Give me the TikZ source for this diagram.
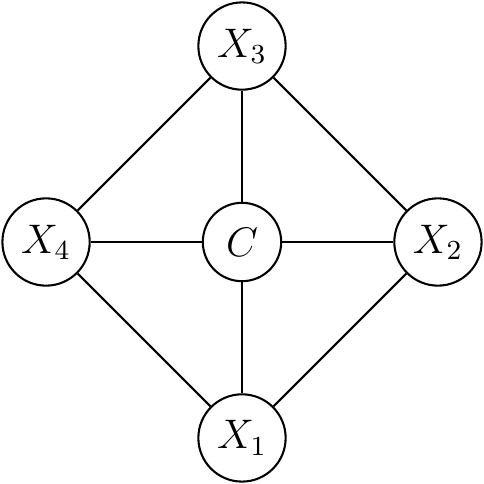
\documentclass[tikz,border=0pt]{standalone}
\usepackage{tikz}

\tikzset{
  vertex/.style={draw, circle, semithick, inner sep=2.8pt, minimum size=0.8cm,
    font=\large},
  edge/.style={semithick}
}

\begin{document}
\begin{tikzpicture}
  \useasboundingbox (-2.47,-2.47) rectangle (2.47,2.47);

  % --- vertices ---
  \node[vertex] (c) at (0,0) {$C$};
  \node[vertex] (x1) at (0,-2) {$X_1$};
  \node[vertex] (x2) at (2,0) {$X_2$};
  \node[vertex] (x3) at (0,2) {$X_3$};
  \node[vertex] (x4) at (-2,0) {$X_4$};

  % --- spokes ---
  \foreach \v in {x1,x2,x3,x4} {
    \draw[edge] (c) -- (\v);
  }

  % --- rim ---
  \draw[edge] (x1) -- (x2);
  \draw[edge] (x2) -- (x3);
  \draw[edge] (x3) -- (x4);
  \draw[edge] (x4) -- (x1);
\end{tikzpicture}
\end{document}
